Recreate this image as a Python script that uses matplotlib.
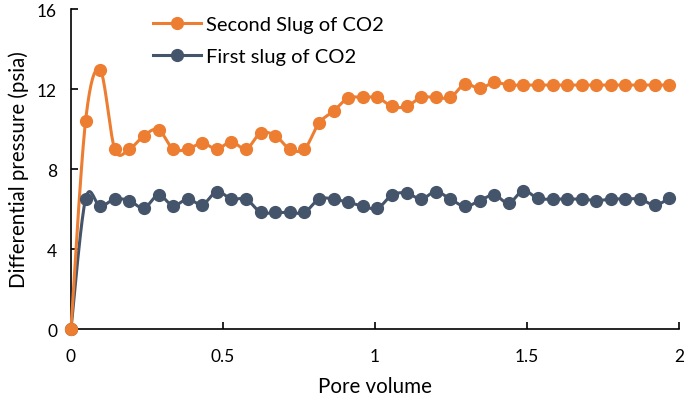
import numpy as np
import matplotlib.pyplot as plt
from matplotlib.lines import Line2D

# --- Données ---
pore_volume = np.round(np.arange(42) * 0.048, 3)

second_slug = [0, 10.4, 12.95, 9.0, 9.0, 9.67, 9.97, 9.0, 9.0, 9.3,
               9.0, 9.37, 9.0, 9.8, 9.67, 9.0, 9.0, 10.3, 10.9, 11.55,
               11.58, 11.58, 11.13, 11.13, 11.58, 11.58, 11.58, 12.25, 12.03, 12.33,
               12.2, 12.2, 12.2, 12.2, 12.2, 12.2, 12.2, 12.2, 12.2, 12.2,
               12.2, 12.2]

first_slug = [0, 6.5, 6.13, 6.5, 6.42, 6.05, 6.7, 6.17, 6.5, 6.22,
              6.87, 6.5, 6.5, 5.83, 5.83, 5.83, 5.83, 6.5, 6.5, 6.33,
              6.15, 6.03, 6.7, 6.8, 6.5, 6.87, 6.5, 6.13, 6.42, 6.7,
              6.3, 6.92, 6.53, 6.5, 6.5, 6.5, 6.42, 6.5, 6.5, 6.5,
              6.2, 6.53]

x_ticks = [0, 0.5, 1, 1.5, 2]
x_labels = ['0', '0.5', '1', '1.5', '2']
y_ticks = [0, 4, 8, 12, 16]


def lissage(x, y, n=20):
    # courbe lissée type Excel (Catmull-Rom en Bézier)
    x = np.asarray(x, float)
    y = np.asarray(y, float)
    px = np.concatenate([[x[0]], x, [x[-1]]])
    py = np.concatenate([[y[0]], y, [y[-1]]])
    t = np.linspace(0, 1, n)[:, None]
    xs, ys = [], []
    for i in range(1, len(px) - 2):
        p0 = np.array([px[i], py[i]])
        p3 = np.array([px[i + 1], py[i + 1]])
        c1 = p0 + (p3 - np.array([px[i - 1], py[i - 1]])) / 6
        c2 = p3 - (np.array([px[i + 2], py[i + 2]]) - p0) / 6
        b = ((1 - t) ** 3) * p0 + 3 * ((1 - t) ** 2) * t * c1 + 3 * (1 - t) * t ** 2 * c2 + t ** 3 * p3
        xs.append(b[:, 0])
        ys.append(b[:, 1])
    return np.concatenate(xs), np.concatenate(ys)


plt.rcParams['font.family'] = ['Lato', 'DejaVu Sans']

fig = plt.figure(figsize=(6.85, 4.02), dpi=100)
ax = fig.add_axes([0.1036, 0.179, 0.8876, 0.796])

orange = '#ED7D31'
bleu = '#44546A'

for y, c in [(first_slug, bleu), (second_slug, orange)]:
    sx, sy = lissage(pore_volume, y)
    ax.plot(sx, sy, color=c, lw=2.2, clip_on=False, zorder=3)
    ax.plot(pore_volume, y, 'o', color=c, ms=8.5, clip_on=False, zorder=4)

# légende avec ligne + marqueur
handles = [Line2D([], [], color=orange, lw=2.2, marker='o', ms=8.5),
           Line2D([], [], color=bleu, lw=2.2, marker='o', ms=8.5)]
ax.legend(handles, ['Second Slug of CO2', 'First slug of CO2'],
          loc='upper left', bbox_to_anchor=(0.105, 1.035), frameon=False,
          fontsize=14.5, handlelength=2.4, handletextpad=0.25, labelspacing=0.75)

ax.set_xlim(0, 2)
ax.set_ylim(0, 16)
ax.set_xticks(x_ticks)
ax.set_xticklabels(x_labels)
ax.set_yticks(y_ticks)
ax.tick_params(direction='in', length=5, width=1.2, labelsize=12.5)
ax.tick_params(axis='x', pad=14)
ax.tick_params(axis='y', pad=10)
for s in ['top', 'right']:
    ax.spines[s].set_visible(False)
for s in ['left', 'bottom']:
    ax.spines[s].set_linewidth(1.2)

ax.set_xlabel('Pore volume', fontsize=14.8, labelpad=8)
ax.set_ylabel('Differential pressure (psia)', fontsize=14.8, labelpad=6)

plt.savefig('out.png', dpi=100)
